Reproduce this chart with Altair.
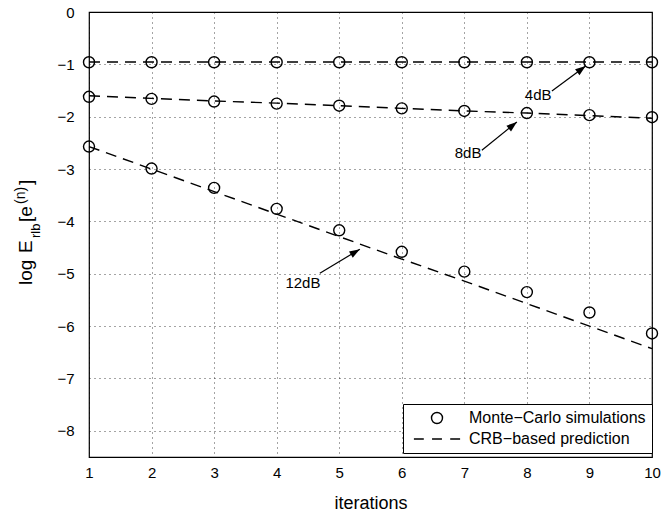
import math
import altair as alt
import pandas as pd

# ---------------- data ----------------
iterations = [1, 2, 3, 4, 5, 6, 7, 8, 9, 10]

mc_4db = [-0.96, -0.96, -0.96, -0.96, -0.96, -0.96, -0.96, -0.96, -0.96, -0.96]
crb_4db = [-0.955, -0.955, -0.955, -0.955, -0.955, -0.955, -0.955, -0.955, -0.955, -0.955]

mc_8db = [-1.62, -1.66, -1.71, -1.75, -1.79, -1.84, -1.89, -1.93, -1.97, -2.01]
crb_8db = [-1.60, -1.65, -1.70, -1.74, -1.79, -1.84, -1.89, -1.93, -1.98, -2.03]

mc_12db = [-2.57, -2.99, -3.36, -3.76, -4.17, -4.58, -4.96, -5.35, -5.74, -6.14]
crb_12db = [-2.57, -3.00, -3.43, -3.86, -4.29, -4.72, -5.14, -5.57, -6.00, -6.43]

series_names = ["4dB", "8dB", "12dB"]

ann_labels = ["4dB", "8dB", "12dB"]
ann_text_x = [8.18, 7.06, 4.42]
ann_text_y = [-1.59, -2.69, -5.18]
arrow_tail_x = [8.40, 7.28, 4.69]
arrow_tail_y = [-1.51, -2.64, -4.99]
arrow_tip_x = [8.94, 7.84, 5.33]
arrow_tip_y = [-1.03, -2.10, -4.53]

x_ticks = [1, 2, 3, 4, 5, 6, 7, 8, 9, 10]
y_ticks = [0, -1, -2, -3, -4, -5, -6, -7, -8]

MC = "Monte\u2212Carlo simulations"
CRB = "CRB\u2212based prediction"

# ---------------- layout / style ----------------
FONT = "Liberation Sans"
W, H = 563, 445
X_DOM = [1, 10]
Y_DOM = [-8.5, 0]
PX_X = W / (X_DOM[1] - X_DOM[0])
PX_Y = H / (Y_DOM[1] - Y_DOM[0])

DASH_SYMBOL = "M-4.2,0L-2.4,0M-0.9,0L0.9,0M2.4,0L4.2,0"
HEAD_SYMBOL = "M0,0L-0.7,2L0.7,2Z"

# ---------------- tables ----------------
mc_rows, crb_rows = [], []
for name, mc, crb in zip(series_names, [mc_4db, mc_8db, mc_12db], [crb_4db, crb_8db, crb_12db]):
    for it, m, c in zip(iterations, mc, crb):
        mc_rows.append({"it": it, "v": m, "series": name, "kind": MC})
        crb_rows.append({"it": it, "v": c, "series": name})
mc_df = pd.DataFrame(mc_rows)
crb_df = pd.DataFrame(crb_rows)

ann_rows = []
for lab, tx, ty, x0, y0, x1, y1 in zip(ann_labels, ann_text_x, ann_text_y,
                                       arrow_tail_x, arrow_tail_y, arrow_tip_x, arrow_tip_y):
    dx = (x1 - x0) * PX_X
    dy = -(y1 - y0) * PX_Y
    ang = math.degrees(math.atan2(dx, -dy)) % 360
    ann_rows.append({"label": lab, "tx": tx, "ty": ty, "x0": x0, "y0": y0,
                     "x1": x1, "y1": y1, "ang": ang})
ann_df = pd.DataFrame(ann_rows)

xs = alt.Scale(domain=X_DOM, nice=False, zero=False)
ys = alt.Scale(domain=Y_DOM, nice=False, zero=False)

x_axis = alt.Axis(values=x_ticks, format="d", title="iterations", grid=True, ticks=False,
                  labelFlush=False, labelOverlap=False, labelPadding=8,
                  titlePadding=14)
y_axis = alt.Axis(values=y_ticks, format="d", title=None, grid=True, ticks=False,
                  labelFlush=False, labelOverlap=False, labelPadding=15)

lines = alt.Chart(crb_df).mark_line(color="black", strokeDash=[11, 7], strokeWidth=1.4).encode(
    x=alt.X("it:Q", scale=xs, axis=x_axis),
    y=alt.Y("v:Q", scale=ys, axis=y_axis),
    detail="series:N",
)

points = alt.Chart(mc_df).mark_point(filled=False, color="black", size=121, strokeWidth=1.4, opacity=1).encode(
    x=alt.X("it:Q", scale=xs),
    y=alt.Y("v:Q", scale=ys),
    shape=alt.Shape(
        "kind:N",
        scale=alt.Scale(domain=[MC, CRB], range=["circle", DASH_SYMBOL]),
        legend=alt.Legend(
            title=None, orient="none", legendX=314, legendY=392,
            fillColor="white", strokeColor="black", padding=6,
            symbolOffset=20, labelOffset=24, symbolSize=121,
            symbolStrokeColor="black", symbolStrokeWidth=1.4,
            symbolFillColor="transparent", labelLimit=400,
            labelFont=FONT, labelFontSize=16, labelColor="black",
            rowPadding=4, cornerRadius=0,
        ),
    ),
)

arrow_shafts = alt.Chart(ann_df).mark_rule(color="black", strokeWidth=1.2).encode(
    x=alt.X("x0:Q", scale=xs), y=alt.Y("y0:Q", scale=ys),
    x2="x1:Q", y2="y1:Q",
)

arrow_heads = alt.Chart(ann_df).mark_point(shape=HEAD_SYMBOL, filled=True, color="black",
                                           size=110, opacity=1).encode(
    x=alt.X("x1:Q", scale=xs), y=alt.Y("y1:Q", scale=ys),
    angle=alt.Angle("ang:Q", scale=None),
)

ann_text = alt.Chart(ann_df).mark_text(font=FONT, fontSize=15, color="black",
                                       align="center", baseline="middle").encode(
    x=alt.X("tx:Q", scale=xs), y=alt.Y("ty:Q", scale=ys), text="label:N",
)

# y-axis title with subscript / superscript pieces
dummy = pd.DataFrame({"d": [0]})
title_pieces = [
    ("log", 19, -57, 273),
    ("E", 19, -57, 241),
    ("rlb", 13, -49, 226),
    ("[e", 19, -57, 210),
    ("(n)", 14, -64, 192),
    ("]", 19, -57, 173),
]
title_layers = []
for txt, fs, px, py in title_pieces:
    title_layers.append(
        alt.Chart(dummy).mark_text(text=txt, font=FONT, fontSize=fs, color="black",
                                   angle=270, align="left", baseline="alphabetic").encode(
            x=alt.value(px), y=alt.value(py)
        )
    )

chart = alt.layer(lines, points, arrow_shafts, arrow_heads, ann_text, *title_layers).properties(
    width=W, height=H,
    autosize=alt.AutoSizeParams(type="none"),
    padding={"left": 89, "top": 12, "right": 10, "bottom": 55},
    background="white",
).configure_view(
    stroke="black", strokeWidth=1.2
).configure_axis(
    domain=False,
    gridColor="black", gridDash=[1, 4], gridWidth=0.8, gridOpacity=0.9,
    labelFont=FONT, labelFontSize=15, labelColor="black",
    titleFont=FONT, titleFontSize=18, titleFontWeight="normal", titleColor="black",
)

chart.save("out.html", embed_options={"renderer": "svg", "actions": False})
